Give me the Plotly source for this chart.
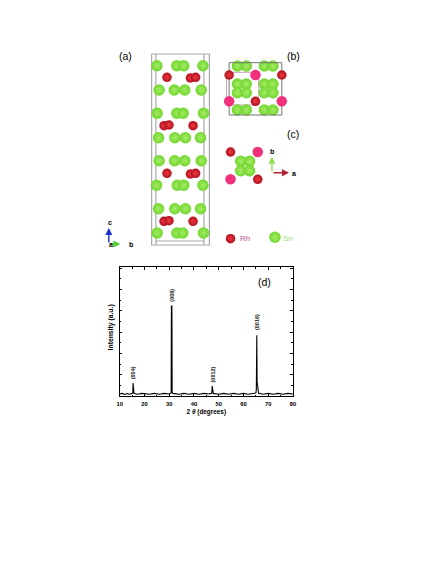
import plotly.graph_objects as go

W, H = 436, 564

# XRD pattern, panel (d)
two_theta = [10, 11, 12, 13, 14, 15, 15.3, 15.4, 15.5, 15.6, 15.8, 17, 19, 22, 24, 26, 28, 30, 30.8, 30.9, 31.1, 31.2, 31.5,
             34, 36, 38, 40, 42, 44, 46, 47.2, 47.4, 47.5, 47.6, 47.8, 50, 52, 54, 56, 58, 60, 62, 64,
             65, 65.2, 65.3, 65.4, 65.5, 65.6, 65.7, 65.8, 65.9, 66.1, 68, 70, 72, 74, 76, 78, 80]
intensity = [2, 2.6, 1.6, 2.4, 1.8, 2.6, 3, 13, 8, 5, 2.6, 1.8, 2.6, 1.8, 2.6, 1.8, 2.6, 2, 3, 90, 90, 4, 2.6,
             1.8, 2.6, 1.8, 2.6, 1.8, 2.6, 2, 2.6, 10, 7, 4, 2.6, 1.8, 2.6, 1.8, 2.6, 1.8, 2.6, 1.8, 2.6,
             3, 6, 60.7, 60.7, 13, 13, 9, 6, 4, 2.6, 1.8, 2.6, 1.8, 2.6, 1.8, 2.6, 2]
peak_labels = ["(004)", "(008)", "(0012)", "(0016)"]
peak_x = [15.5, 31, 47.5, 65.5]
peak_y = [23, 101, 21, 74]

x_ticks = [10, 20, 30, 40, 50, 60, 70, 80]

# crystal structure, positions read in picture pixels
sn_x = [156, 176.3, 183.3, 202.7, 158.3, 173.7, 184.3, 201, 156.3, 176.3, 182.7, 203.3, 157.7, 174.3, 185, 200.3,
        158.3, 174, 184.3, 201, 155.7, 176.7, 183.3, 202.7, 157.7, 174.3, 185, 200.3, 156.3, 176.3, 182.3, 203.3,
        237.7, 246.7, 265, 273.7, 237.7, 246.7, 265, 273.7, 237.7, 246.7, 237.7, 246.7, 265, 273.7, 265, 273.7,
        241, 250, 241, 250, 275.7]
sn_y = [65.7, 65.7, 65.7, 65.7, 90, 90, 90, 90, 113.3, 113.3, 113.3, 113.3, 137.7, 137.7, 137.7, 137.7,
        160.7, 160.7, 160.7, 160.7, 185.3, 185.3, 185.3, 185.3, 208.7, 208.7, 208.7, 208.7, 233, 233, 233, 233,
        66, 66, 66, 66, 110, 110, 110, 110, 84, 84, 92.7, 92.7, 84, 84, 92.7, 92.7,
        161.3, 161.3, 170.7, 170.7, 237.3]
rh_x = [190, 195.3, 166.3, 163.3, 168.3, 192.7, 190, 195.3, 166.3, 163.3, 168.3, 192.7,
        229.3, 282.7, 256, 230.7, 258.3, 230.7]
rh_y = [78, 77.3, 77.3, 125.7, 125, 125.7, 174, 173.3, 173.3, 221.3, 220.7, 221.3,
        75, 75, 101.3, 152, 179.3, 238.7]
pink_x = [256, 229.3, 282.7, 258.3, 230.7]
pink_y = [75, 101.3, 101.3, 152, 179.3]

cell_a_x = [150.7, 209.3, 209.3, 150.7, 150.7, None, 155, 155, None, 203.7, 203.7, None, 155, 203.7]
cell_a_y = [54, 54, 245, 245, 54, None, 54, 245, None, 54, 245, None, 241, 241]
cell_b_x = [229.3, 282.7, 282.7, 229.3, 229.3]
cell_b_y = [62.7, 62.7, 115, 115, 62.7]
cell_b2_x = [226.7, 259.3, 259.3, 226.7, 226.7]
cell_b2_y = [72.3, 72.3, 105, 105, 72.3]

fig = go.Figure()

fig.add_trace(go.Scatter(x=two_theta, y=intensity, mode="lines", line=dict(color="black", width=1.1), xaxis="x", yaxis="y"))

# structure panels live on a hidden axis pair in picture pixels
fig.add_trace(go.Scatter(x=cell_a_x, y=cell_a_y, mode="lines", line=dict(color="#a8a8a8", width=1.2), xaxis="x2", yaxis="y2"))
fig.add_trace(go.Scatter(x=cell_b2_x, y=cell_b2_y, mode="lines", line=dict(color="#c9a0b8", width=1), xaxis="x2", yaxis="y2"))
fig.add_trace(go.Scatter(x=sn_x, y=sn_y, mode="markers", xaxis="x2", yaxis="y2",
                         marker=dict(size=11.5, color="#72d62e", line=dict(width=0),
                                     gradient=dict(type="radial", color="#a4ec66"))))
fig.add_trace(go.Scatter(x=cell_b_x, y=cell_b_y, mode="lines", line=dict(color="#707870", width=1), xaxis="x2", yaxis="y2"))
fig.add_trace(go.Scatter(x=pink_x, y=pink_y, mode="markers", xaxis="x2", yaxis="y2",
                         marker=dict(size=10.5, color="#f0307a", line=dict(width=0))))
fig.add_trace(go.Scatter(x=rh_x, y=rh_y, mode="markers", xaxis="x2", yaxis="y2",
                         marker=dict(size=9.5, color="#b01020", line=dict(width=0),
                                     gradient=dict(type="radial", color="#ee3a40"))))

notes = []


def px_text(x, y, text, size=9, color="black", bold=False, angle=0):
    notes.append(dict(x=x, y=y, xref="x2", yref="y2", text=f"<b>{text}</b>" if bold else text, showarrow=False,
                      textangle=angle, font=dict(size=size, color=color)))


def arrow(x0, y0, x1, y1, color):
    notes.append(dict(x=x1, y=y1, ax=x0, ay=y0, xref="x2", yref="y2", axref="x2", ayref="y2", text="",
                      showarrow=True, arrowhead=2, arrowsize=1, arrowwidth=1.4, arrowcolor=color))


px_text(124, 55.7, "(a)", 10.5)
px_text(294.3, 56.3, "(b)", 10.5)
px_text(294.3, 134, "(c)", 10.5)
px_text(265, 281.7, "(d)", 10.5)

arrow(107.3, 244, 107.3, 228, "#1a2fd0")
arrow(107.3, 244, 119, 244, "#55d030")
arrow(272.7, 172.7, 272.7, 156.7, "#90e050")
arrow(272.7, 172.7, 290, 172.7, "#b02030")
px_text(108, 222.7, "c", 7, bold=True)
px_text(110, 244, "a", 7, bold=True)
px_text(129.3, 244.3, "b", 7, bold=True)
px_text(273, 151, "b", 7, bold=True)
px_text(295, 173, "a", 7, bold=True)
px_text(245, 238.7, "Rh", 8, color="#b0508a")
px_text(289, 238, "Sn", 8, color="#90e070")
px_text(109.2, 327.7, "Intensity (a.u.)", 6.8, bold=True, angle=-90)

for lab, px, py in zip(peak_labels, peak_x, peak_y):
    notes.append(dict(x=px, y=py, xref="x", yref="y", text=f"<b>{lab}</b>", textangle=-90, showarrow=False,
                      font=dict(size=5.5, color="#222")))

axis_style = dict(showline=True, linecolor="black", linewidth=1, mirror="allticks", ticks="inside",
                  showgrid=False, zeroline=False, color="black")

fig.update_layout(
    width=W, height=H,
    margin=dict(l=0, r=0, t=0, b=0),
    paper_bgcolor="white", plot_bgcolor="rgba(0,0,0,0)",
    showlegend=False,
    font=dict(family="Liberation Sans"),
    annotations=notes,
    xaxis=dict(domain=[118.3 / W, 294 / W], range=[10, 80], tickvals=x_ticks, ticklen=2.5, tickwidth=1,
               minor=dict(ticks="inside", dtick=5, ticklen=1.5, tickwidth=0.7),
               tickfont=dict(size=5.8, weight=700), ticklabelstandoff=2,
               title=dict(text="<b>2 <i>θ</i> (degrees)</b>", font=dict(size=6.4), standoff=3), **axis_style),
    yaxis=dict(domain=[1 - 396 / H, 1 - 267 / H], range=[0, 129], dtick=21.3, tick0=0, ticklen=2.5, tickwidth=1,
               showticklabels=False, minor=dict(ticks="inside", dtick=10.65, ticklen=1.5, tickwidth=0.7),
               **axis_style),
    xaxis2=dict(domain=[0, 1], range=[0, W], visible=False, anchor="y2"),
    yaxis2=dict(domain=[0, 1], range=[H, 0], visible=False, anchor="x2"),
)

fig.write_html("out.html", config=dict(displayModeBar=False), post_script="document.body.style.margin='0';")
